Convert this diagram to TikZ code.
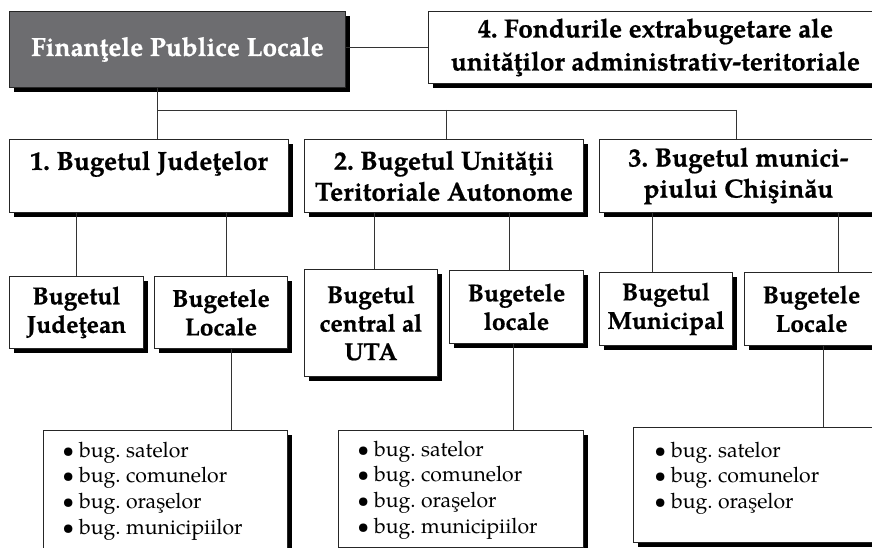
\documentclass[tikz,border=0pt]{standalone}
\usepackage{fontspec}
\setmainfont{texgyrepagella}[Extension=.otf, UprightFont=*-regular, BoldFont=*-bold,
  ItalicFont=*-italic, BoldItalicFont=*-bolditalic, BoldFeatures={FakeBold=0.7}]
\usetikzlibrary{shadows}

\definecolor{headgray}{HTML}{6D6D70}

\tikzset{
  x=1pt, y=-1pt,
  box/.style={draw=black!85, line width=0.9pt, fill=white, anchor=north west,
    inner sep=0pt, align=center,
    drop shadow={shadow xshift=4.5pt, shadow yshift=-4.5pt, fill=black, opacity=1}},
  topfont/.style={font=\fontsize{26.2}{31}\selectfont\bfseries},
  subfont/.style={font=\fontsize{24.5}{28.5}\selectfont\bfseries},
  listtext/.style={font=\fontsize{21.2}{25.8}\selectfont, anchor=base west, inner sep=0pt},
  link/.style={draw=black!80, line width=0.8pt},
}
\newcommand{\itm}[1]{\makebox[12pt]{\textbullet}\hspace{5pt}#1}

\begin{document}
\frenchspacing
\begin{tikzpicture}
\useasboundingbox (0,0) rectangle (872,548);
\clip (0,0) rectangle (872,548);

% top row
\node[box, topfont, fill=headgray, text=white, minimum width=336pt, minimum height=76pt]
  (fpl) at (9,11) {Finanţele Publice Locale};
\node[box, font=\fontsize{26.2}{33}\selectfont\bfseries, minimum width=454pt, minimum height=72pt]
  (fond) at (428,11) {4. Fondurile extrabugetare ale\\unităţilor administrativ-teritoriale};

% budget levels
\node[box, topfont, minimum width=279pt, minimum height=73pt]
  (bj) at (9,139) {1. Bugetul Judeţelor\\\mbox{}};
\node[box, topfont, minimum width=279pt, minimum height=73pt]
  (buta) at (304,139) {2. Bugetul Unităţii\\Teritoriale Autonome};
\node[box, topfont, minimum width=278pt, minimum height=73pt]
  (bmun) at (599,139) {3. Bugetul munici-\\piului Chişinău};

% sub-budgets
\node[box, subfont, minimum width=134pt, minimum height=72pt]
  (bjud) at (9,276) {Bugetul\\Judeţean};
\node[box, subfont, minimum width=133pt, minimum height=72pt]
  (blj) at (154,276) {Bugetele\\Locale};
\node[box, subfont, minimum width=133pt, minimum height=107pt]
  (bcen) at (304,269) {Bugetul\\central al\\UTA};
\node[box, subfont, minimum width=134pt, minimum height=73pt]
  (blu) at (449,270) {Bugetele\\locale};
\node[box, subfont, minimum width=133pt, minimum height=73pt]
  (bmp) at (599,272) {Bugetul\\Municipal};
\node[box, subfont, minimum width=134pt, minimum height=73pt]
  (blm) at (744,272) {Bugetele\\Locale};

% local budget lists
\node[box, minimum width=244pt, minimum height=140pt] (l1) at (43,430) {};
\node[box, minimum width=245pt, minimum height=117pt] (l2) at (338,430) {};
\node[box, minimum width=260pt, minimum height=115pt] (l3) at (633,427) {};

\node[listtext] (l1t) at (62,457) {\begin{tabular}[t]{@{}l@{}}
  \itm{bug. satelor}\\ \itm{bug. comunelor}\\
  \itm{bug. oraşelor}\\ \itm{bug. municipiilor}\end{tabular}};
\node[listtext] (l2t) at (357,456) {\begin{tabular}[t]{@{}l@{}}
  \itm{bug. satelor}\\ \itm{bug. comunelor}\\
  \itm{bug. oraşelor}\\ \itm{bug. municipiilor}\end{tabular}};
\node[listtext] (l3t) at (654,457) {\begin{tabular}[t]{@{}l@{}}
  \itm{bug. satelor}\\ \itm{bug. comunelor}\\
  \itm{bug. oraşelor}\end{tabular}};

% connector positions
\coordinate (j1) at (157,110);
\coordinate (j2) at (446,110);
\coordinate (j3) at (736,110);
\coordinate (c1) at (76,0);
\coordinate (c2) at (226,0);
\coordinate (c3) at (374,0);
\coordinate (c4) at (509,0);
\coordinate (c5) at (652,0);
\coordinate (c6) at (838,0);
\coordinate (d1) at (231,0);
\coordinate (d2) at (513,0);
\coordinate (d3) at (823,0);

% connectors
\draw[link] (fond.west -| fpl.east) -- (fond.west);
\draw[link] (fpl.south -| j1) -- (bj.north -| j1);
\draw[link] (j1) -- (j3);
\draw[link] (j2) -- (buta.north -| j2);
\draw[link] (j3) -- (bmun.north -| j3);

\draw[link] (bj.south -| c1) -- (bjud.north -| c1);
\draw[link] (bj.south -| c2) -- (blj.north -| c2);
\draw[link] (buta.south -| c3) -- (bcen.north -| c3);
\draw[link] (buta.south -| c4) -- (blu.north -| c4);
\draw[link] (bmun.south -| c5) -- (bmp.north -| c5);
\draw[link] (bmun.south -| c6) -- (blm.north -| c6);

\draw[link] (blj.south -| d1) -- (l1.north -| d1);
\draw[link] (blu.south -| d2) -- (l2.north -| d2);
\draw[link] (blm.south -| d3) -- (l3.north -| d3);
\end{tikzpicture}
\end{document}
